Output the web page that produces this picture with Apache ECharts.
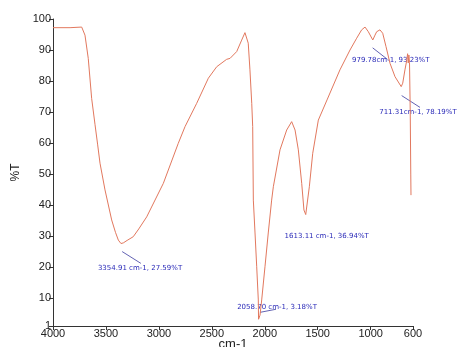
<!DOCTYPE html>
<html>
<head>
<meta charset="utf-8">
<script src="https://cdn.jsdelivr.net/npm/echarts@6/dist/echarts.min.js"></script>
<style>html,body{margin:0;padding:0;background:#fff}#c{width:462px;height:347px}</style>
</head>
<body>
<div id="c"></div>
<script>
// Spectrum: wavenumber (cm-1) and transmittance (%T)
const wavenumbers = [4000,3839,3729,3698,3667,3635,3603,3578,3556,3509,3446,3410,3383,3358,3336,3300,3242,3190,3115,2958,2817,2753,2643,2533,2454,2360,2328,2265,2218,2187,2156,2140,2123,2114,2108,2092,2076,2061,2058.7,2045,2029,1998,1967,1935,1919,1856,1793,1746,1714,1683,1651,1630,1613.11,1579,1547,1494,1412,1290,1195,1132,1085,1053,1022,979.78,959,943,912,886,855,817,770,711.31,697,676,660,651,645,639,633,626,621,619];
const transmittance = [97.2,97.2,97.4,94.8,87.3,74.4,65.9,59.4,53.5,44.9,35.2,31.2,28.7,27.59,27.8,28.6,29.8,32.3,36.2,47.0,59.9,65.3,72.8,80.9,84.6,87.0,87.3,89.5,93.2,95.6,92.2,83.6,72.8,65.3,41.6,31.0,20.1,9.4,3.18,4.5,9.4,20.1,31.0,41.6,45.9,57.8,64.2,66.9,64.2,57.8,47.0,38.4,36.94,45.9,56.7,67.4,73.9,83.6,90.0,93.8,96.5,97.4,95.9,93.23,94.8,95.9,96.5,95.4,91.1,85.7,81.4,78.19,79.3,83.6,86.5,88.8,85.8,88.4,86.0,70,50,43.2];

// Tick labels
const xTicks = [4000,3500,3000,2500,2000,1500,1000,600];
const yTicks = [1,10,20,30,40,50,60,70,80,90,100];

// Peak annotations: text, label anchor [cm-1, %T], leader line [from, to] in data units
const peakTexts = ['3354.91 cm-1, 27.59%T','2058.70 cm-1, 3.18%T','1613.11 cm-1, 36.94%T','979.78cm-1, 93.23%T','711.31cm-1, 78.19%T'];
const peakLabelAt = [[3178,19.8],[1884,7.2],[1415,30.0],[810,86.8],[553,70.1]];
const peakLeaders = [[[3347,25.0],[3170,21.2]],[[2045,5.4],[1894,6.4]],null,[[981,90.7],[842,87.0]],[[707,75.3],[534,71.5]]];

const series = wavenumbers.map((w,i)=>[w,transmittance[i]]);

const chart = echarts.init(document.getElementById('c'));
chart.setOption({
  animation:false,
  backgroundColor:'#fff',
  grid:{left:53,right:49,top:19,bottom:21,outerBoundsMode:'none',containLabel:false},
  xAxis:{
    type:'value',min:600,max:4000,inverse:true,
    name:'cm-1',nameLocation:'middle',nameGap:12,nameMoveOverlap:false,
    nameTextStyle:{fontFamily:'Arial',fontSize:13,color:'#222'},
    axisLine:{show:true,lineStyle:{color:'#333',width:1}},
    axisTick:{show:true,length:4,lineStyle:{color:'#333'},customValues:xTicks},
    axisLabel:{fontFamily:'Arial',fontSize:11,color:'#222',margin:2,customValues:xTicks,formatter:v=>String(v)},
    splitLine:{show:false}
  },
  yAxis:{
    type:'value',min:1,max:100,
    name:'%T',nameLocation:'middle',nameGap:31,nameMoveOverlap:false,
    nameTextStyle:{fontFamily:'Arial',fontSize:12,color:'#222'},
    axisLine:{show:true,lineStyle:{color:'#333',width:1}},
    axisTick:{show:true,length:4,lineStyle:{color:'#333'},customValues:yTicks},
    axisLabel:{fontFamily:'Arial',fontSize:11,color:'#222',margin:2,customValues:yTicks,formatter:v=>String(v)},
    splitLine:{show:false}
  },
  series:[{
    type:'line',data:series,showSymbol:false,smooth:false,clip:false,
    lineStyle:{color:'#e2785e',width:1}
  }]
});

// Annotations placed through the chart's own coordinate conversion
const toPx = v => chart.convertToPixel({gridIndex:0}, v);
const graphics = [];
peakLeaders.forEach(l=>{
  if(!l) return;
  const a = toPx(l[0]), b = toPx(l[1]);
  graphics.push({type:'line',silent:true,shape:{x1:a[0],y1:a[1],x2:b[0],y2:b[1]},
    style:{stroke:'#3a3aa0',lineWidth:0.8}});
});
peakTexts.forEach((t,i)=>{
  const p = toPx(peakLabelAt[i]);
  graphics.push({type:'text',silent:true,x:p[0],y:p[1],
    style:{text:t,fill:'#2a2ab8',font:'7px "DejaVu Sans"',align:'center',verticalAlign:'middle'}});
});
chart.setOption({graphic:graphics});
</script>
</body>
</html>
